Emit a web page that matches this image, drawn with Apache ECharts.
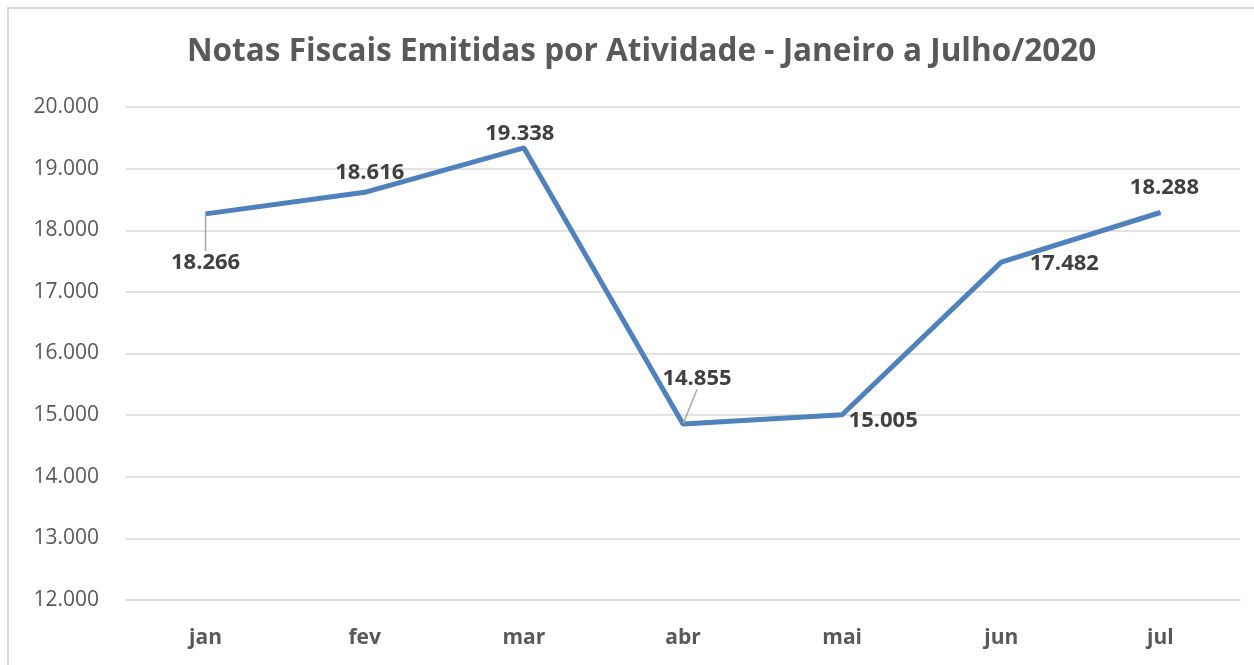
<!DOCTYPE html>
<html>
<head>
<meta charset="utf-8">
<script src="https://cdn.jsdelivr.net/npm/echarts@6/dist/echarts.min.js"></script>
<style>
  html, body { margin: 0; padding: 0; background: #fff; }
  #chart { width: 1254px; height: 665px; }
</style>
</head>
<body>
<div id="chart"></div>
<script>
"use strict";

const months = ["jan", "fev", "mar", "abr", "mai", "jun", "jul"];
const notas = [18266, 18616, 19338, 14855, 15005, 17482, 18288];
const yTicks = { min: 12000, max: 20000, step: 1000 };

// where each data label sits relative to its default "top" spot
const labelShift = [[0, 65], [5, -3], [-4, 2], [14, -29], [41, 22], [63, 18], [4, -8]];
const withLeader = [true, false, false, true, false, false, false];

function fmt(v) {
    return String(v).replace(/\B(?=(\d{3})+(?!\d))/g, ".");
}

let chart = echarts.init(document.getElementById("chart"));

chart.setOption({
    animation: false,
    backgroundColor: "#fff",
    graphic: [{
        type: "rect",
        shape: { x: 8, y: 8, width: 1300, height: 700 },
        style: { fill: "none", stroke: "#d9d9d9", lineWidth: 2 }
    }],
    title: {
        text: "Notas Fiscais Emitidas por Atividade - Janeiro a Julho/2020",
        left: 182,
        top: 31,
        textStyle: { fontFamily: "Open Sans", fontWeight: "bold", fontSize: 31.5, color: "#595959" }
    },
    grid: { left: 126, right: 14, top: 107, bottom: 65 },
    xAxis: {
        type: "category",
        data: months,
        boundaryGap: true,
        axisLine: { show: true, lineStyle: { color: "#d9d9d9", width: 1.5 } },
        axisTick: { show: false },
        axisLabel: { margin: 28, fontFamily: "Open Sans", fontWeight: "bold", fontSize: 21, color: "#595959" }
    },
    yAxis: {
        type: "value",
        min: yTicks.min,
        max: yTicks.max,
        interval: yTicks.step,
        axisLine: { show: false },
        axisTick: { show: false },
        splitLine: { lineStyle: { color: "#d9d9d9", width: 1.5 } },
        axisLabel: { margin: 27, fontFamily: "Open Sans", fontSize: 21, color: "#595959", formatter: fmt }
    },
    series: [{
        type: "line",
        data: notas.map((v, i) => ({
            value: v,
            labelLine: { show: withLeader[i], lineStyle: { color: "#a6a6a6", width: 1.5 } }
        })),
        symbol: "circle",
        symbolSize: 1,
        lineStyle: { color: "#4f81bd", width: 5 },
        itemStyle: { color: "#4f81bd" },
        label: {
            show: true,
            position: "top",
            distance: 5,
            fontFamily: "Open Sans",
            fontWeight: "bold",
            fontSize: 22,
            color: "#404040",
            formatter: p => fmt(p.value)
        },
        labelLayout: p => ({ dx: labelShift[p.dataIndex][0], dy: labelShift[p.dataIndex][1] })
    }]
});
</script>
</body>
</html>
